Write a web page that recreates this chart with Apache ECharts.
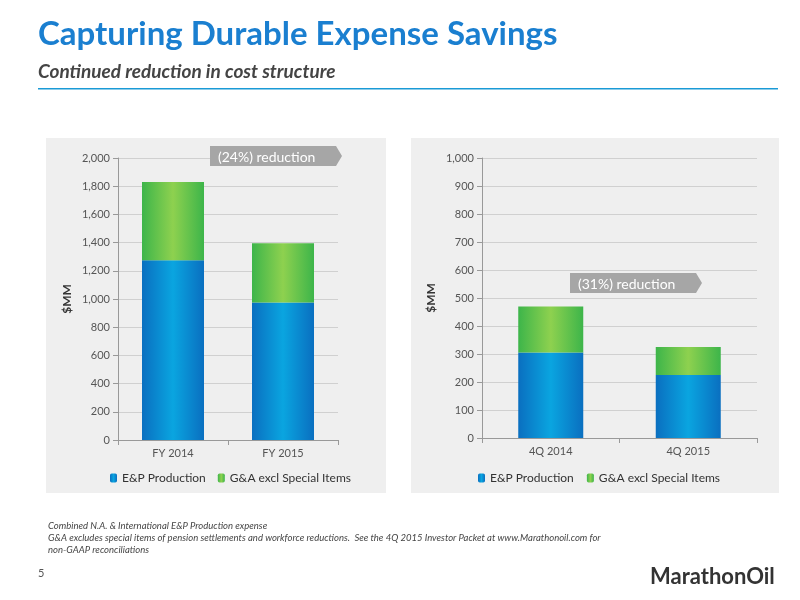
<!DOCTYPE html>
<html><head><meta charset="utf-8">
<script src="https://cdn.jsdelivr.net/npm/echarts@6/dist/echarts.min.js"></script>
<style>html,body{margin:0;background:#fff}#c{width:800px;height:600px}</style>
</head><body><div id="c"></div>
<script>
const fyCategories = ["FY 2014", "FY 2015"];
const fyProduction = [1275, 975];
const fyGA = [555, 420];
const qCategories = ["4Q 2014", "4Q 2015"];
const qProduction = [305, 225];
const qGA = [165, 100];

const FONT = "Lato";
const blue = new echarts.graphic.LinearGradient(0, 0, 1, 0, [
  { offset: 0, color: "#0a6fc0" }, { offset: 0.5, color: "#0aa5e0" }, { offset: 1, color: "#0a6fc0" }]);
const green = new echarts.graphic.LinearGradient(0, 0, 1, 0, [
  { offset: 0, color: "#3db54a" }, { offset: 0.5, color: "#8ed14f" }, { offset: 1, color: "#3db54a" }]);

function axisX(i, data) {
  return {
    type: "category", gridIndex: i, data: data,
    axisLine: { lineStyle: { color: "#999" } },
    axisTick: { show: true, lineStyle: { color: "#999" } },
    axisLabel: { color: "#555", fontSize: 11, fontFamily: FONT }
  };
}
function axisY(i, max, interval) {
  return {
    type: "value", gridIndex: i, min: 0, max: max, interval: interval,
    name: "$MM", nameLocation: "middle", nameGap: 45,
    nameTextStyle: { fontWeight: "bold", fontSize: 12, color: "#333", fontFamily: FONT },
    axisLine: { show: true, lineStyle: { color: "#999" } },
    axisTick: { show: true, lineStyle: { color: "#999" } },
    axisLabel: { color: "#555", fontSize: 11, fontFamily: FONT,
      formatter: v => v.toLocaleString("en-US") },
    splitLine: { lineStyle: { color: "#d0d0d0" } }
  };
}
function arrow(x, y, w, text) {
  return [{
    type: "polygon", z: 20, shape: { points: [[x, y], [x + w, y], [x + w + 6, y + 10], [x + w, y + 20], [x, y + 20]] },
    style: { fill: "#a6a6a6" }
  }, {
    type: "text", z: 21, x: x + 8, y: y + 11,
    style: { text: text, fill: "#fff", font: "14px " + FONT, verticalAlign: "middle" }
  }];
}

const chart = echarts.init(document.getElementById("c"));
chart.setOption({
  backgroundColor: "#fff",
  animation: false,
  graphic: [
    { type: "text", left: 38, top: 18, style: { text: "Capturing Durable Expense Savings", fill: "#1a7fd0", font: "bold 33px " + FONT } },
    { type: "text", left: 38, top: 62, style: { text: "Continued reduction in cost structure", fill: "#444", font: "italic bold 19px " + FONT } },
    { type: "rect", shape: { x: 38, y: 88, width: 740, height: 1.5 }, style: { fill: "#1a9ad6" } },
    { type: "rect", z: -10, shape: { x: 46, y: 138, width: 340, height: 355 }, style: { fill: "#efefef" } },
    { type: "rect", z: -10, shape: { x: 411, y: 138, width: 368, height: 355 }, style: { fill: "#efefef" } },
    ...arrow(210, 146, 126, "(24%) reduction"),
    ...arrow(570, 273, 126, "(31%) reduction"),
    { type: "text", left: 48, top: 520, style: { text: "Combined N.A. & International E&P Production expense\nG&A excludes special items of pension settlements and workforce reductions.  See the 4Q 2015 Investor Packet at www.Marathonoil.com for\nnon-GAAP reconciliations", fill: "#444", font: "italic 9.5px " + FONT, lineHeight: 12 } },
    { type: "text", left: 38, top: 568, style: { text: "5", fill: "#555", font: "11px " + FONT } },
    { type: "text", left: 650, top: 566, style: { text: "MarathonOil", fill: "#333", font: "bold 22px " + FONT } }
  ],
  legend: [
    { data: ["E&P Production", "G&A excl Special Items"], left: 105, top: 467, itemWidth: 7, itemHeight: 9, itemGap: 12,
      textStyle: { fontSize: 12, color: "#333", fontFamily: FONT } },
    { data: ["E&P Production ", "G&A excl Special Items "], left: 473, top: 467, itemWidth: 7, itemHeight: 9, itemGap: 10,
      textStyle: { fontSize: 12, color: "#333", fontFamily: FONT } }
  ],
  grid: [
    { left: 118, top: 158, width: 220, height: 282 },
    { left: 482, top: 158, width: 275, height: 280 }
  ],
  xAxis: [axisX(0, fyCategories), axisX(1, qCategories)],
  yAxis: [axisY(0, 2000, 200), axisY(1, 1000, 100)],
  series: [
    { name: "E&P Production", type: "bar", stack: "a", xAxisIndex: 0, yAxisIndex: 0, barWidth: 62, data: fyProduction, itemStyle: { color: blue } },
    { name: "G&A excl Special Items", type: "bar", stack: "a", xAxisIndex: 0, yAxisIndex: 0, data: fyGA, itemStyle: { color: green } },
    { name: "E&P Production ", type: "bar", stack: "b", xAxisIndex: 1, yAxisIndex: 1, barWidth: 65, data: qProduction, itemStyle: { color: blue } },
    { name: "G&A excl Special Items ", type: "bar", stack: "b", xAxisIndex: 1, yAxisIndex: 1, data: qGA, itemStyle: { color: green } }
  ]
});
</script></body></html>
